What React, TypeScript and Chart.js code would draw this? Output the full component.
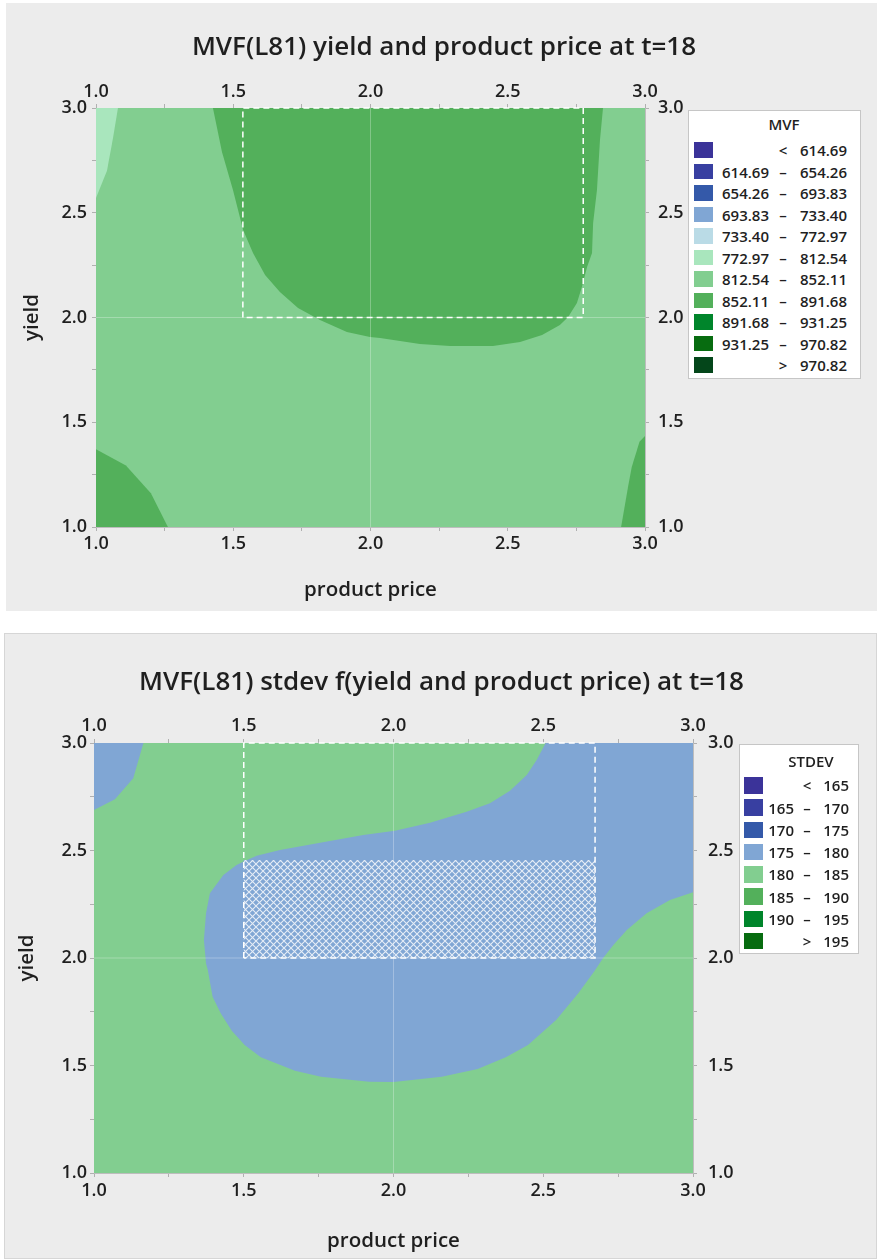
import React, { useEffect, useRef } from 'react';
import { Chart, registerables } from 'chart.js';

Chart.register(...registerables);

const FONT = '"Open Sans", "Noto Sans", "DejaVu Sans", sans-serif';
const INK = '#1f1f1f';

type Pt = [number, number];

// ---------- shared axes ----------
const axisRange = [1.0, 3.0];
const tickValues = [1.0, 1.25, 1.5, 1.75, 2.0, 2.25, 2.5, 2.75, 3.0];
const tickLabels = ['1.0', '', '1.5', '', '2.0', '', '2.5', '', '3.0'];
const xTitle = 'product price';
const yTitle = 'yield';
const refX = 2.0;
const refY = 2.0;

// ---------- chart 1 : MVF ----------
const mvfTitle = 'MVF(L81) yield and product price at t=18';
const mvfLegendTitle = 'MVF';
const mvfBandLow = [null, 614.69, 654.26, 693.83, 733.4, 772.97, 812.54, 852.11, 891.68, 931.25, 970.82];
const mvfBandHigh = [614.69, 654.26, 693.83, 733.4, 772.97, 812.54, 852.11, 891.68, 931.25, 970.82, null];
const mvfBandColors = ['#3b3399', '#383fa1', '#3459a9', '#80a6d4', '#badbe6', '#a9e6bd', '#82ce90', '#53b05b', '#00852b', '#076c10', '#04461a'];

// band 812.54 – 852.11 (whole domain)
const mvfBand812: Pt[] = [[1, 1], [3, 1], [3, 3], [1, 3]];
// band 852.11 – 891.68 (top middle)
const mvfBand852Top: Pt[] = [
  [1.426, 3.0], [1.459, 2.79], [1.499, 2.609], [1.536, 2.418], [1.572, 2.308], [1.616, 2.203],
  [1.67, 2.122], [1.736, 2.045], [1.816, 1.988], [1.914, 1.931], [1.998, 1.907], [2.035, 1.902],
  [2.18, 1.874], [2.29, 1.864], [2.446, 1.864], [2.545, 1.883], [2.625, 1.916], [2.69, 1.964],
  [2.72, 2.002], [2.752, 2.069], [2.77, 2.146], [2.789, 2.241], [2.807, 2.308], [2.811, 2.451],
  [2.825, 2.609], [2.836, 2.847], [2.847, 3.0],
];
// band 852.11 – 891.68 (bottom-left corner)
const mvfBand852Left: Pt[] = [[1.0, 1.0], [1.0, 1.371], [1.109, 1.294], [1.2, 1.161], [1.262, 1.0]];
// band 852.11 – 891.68 (bottom-right corner)
const mvfBand852Right: Pt[] = [[3.0, 1.0], [2.913, 1.0], [2.938, 1.19], [2.952, 1.288], [2.98, 1.407], [3.0, 1.434]];
// band 772.97 – 812.54 (top-left corner)
const mvfBand773: Pt[] = [[1.0, 3.0], [1.08, 3.0], [1.062, 2.857], [1.04, 2.7], [1.0, 2.57]];
// dashed optimum window
const mvfWindow: Pt[] = [[1.535, 2.0], [1.535, 3.0], [2.775, 3.0], [2.775, 2.0], [1.535, 2.0]];

// ---------- chart 2 : STDEV ----------
const sdTitle = 'MVF(L81) stdev f(yield and product price) at t=18';
const sdLegendTitle = 'STDEV';
const sdBandLow = [null, 165, 170, 175, 180, 185, 190, 195];
const sdBandHigh = [165, 170, 175, 180, 185, 190, 195, null];
const sdBandColors = ['#3b3399', '#383fa1', '#3459a9', '#80a6d4', '#82ce90', '#53b05b', '#00852b', '#076c10'];

// band 180 – 185 (whole domain)
const sdBand180: Pt[] = [[1, 1], [3, 1], [3, 3], [1, 3]];
// band 175 – 180 (top-left corner)
const sdBand175Corner: Pt[] = [[1.0, 3.0], [1.165, 3.0], [1.131, 2.836], [1.07, 2.738], [1.0, 2.688]];
// band 175 – 180 (main region)
const sdBand175Main: Pt[] = [
  [2.508, 3.0], [2.478, 2.921], [2.445, 2.851], [2.389, 2.778], [2.322, 2.72], [2.244, 2.68],
  [2.122, 2.629], [2.005, 2.592], [1.955, 2.583], [1.899, 2.572], [1.755, 2.536], [1.621, 2.502],
  [1.543, 2.476], [1.498, 2.448], [1.476, 2.433], [1.432, 2.386], [1.387, 2.301], [1.374, 2.208],
  [1.367, 2.084], [1.374, 1.975], [1.38, 1.944], [1.396, 1.82], [1.423, 1.743], [1.46, 1.662],
  [1.503, 1.595], [1.557, 1.538], [1.671, 1.476], [1.758, 1.448], [1.919, 1.425], [2.0, 1.423],
  [2.161, 1.448], [2.281, 1.484], [2.375, 1.538], [2.449, 1.595], [2.543, 1.712], [2.617, 1.836],
  [2.67, 1.937], [2.7, 2.0], [2.734, 2.06], [2.779, 2.13], [2.845, 2.208], [2.923, 2.27],
  [3.0, 2.306], [3.0, 3.0],
];
// hatched feasible area
const sdHatch: Pt[] = [[1.5, 2.0], [2.673, 2.0], [2.673, 2.456], [1.5, 2.456]];
// dashed window
const sdWindow: Pt[] = [[1.5, 2.0], [1.5, 3.0], [2.673, 3.0], [2.673, 2.0], [1.5, 2.0]];

// ---------- helpers ----------
const toXY = (pts: Pt[]) => pts.map(([x, y]) => ({ x, y }));

function polygon(pts: Pt[], color: any, order: number) {
  return {
    data: toXY(pts),
    showLine: true,
    fill: 'shape',
    backgroundColor: color,
    borderColor: 'rgba(0,0,0,0)',
    borderWidth: 0,
    pointRadius: 0,
    pointHoverRadius: 0,
    tension: 0,
    order,
  };
}

function polyline(pts: Pt[], color: string, width: number, dash: number[], order: number) {
  return {
    data: toXY(pts),
    showLine: true,
    fill: false,
    borderColor: color,
    backgroundColor: color,
    borderWidth: width,
    borderDash: dash,
    pointRadius: 0,
    pointHoverRadius: 0,
    tension: 0,
    order,
    clip: 4,
  };
}

type AxisOpt = { pad: number; size: number; title?: string; titlePad?: number };

function makeScale(position: string, o: AxisOpt) {
  const horizontal = position === 'top' || position === 'bottom';
  return {
    type: 'linear',
    axis: horizontal ? 'x' : 'y',
    position,
    min: axisRange[0],
    max: axisRange[1],
    afterBuildTicks: (s: any) => {
      s.ticks = tickValues.map((v) => ({ value: v }));
    },
    afterFit: (s: any) => {
      if (horizontal) s.height = o.size;
      else s.width = o.size;
    },
    ticks: {
      autoSkip: false,
      maxRotation: 0,
      minRotation: 0,
      padding: o.pad,
      color: INK,
      font: { family: FONT, size: 18, weight: '600' },
      callback: (_v: any, i: number) => tickLabels[i],
    },
    grid: {
      display: true,
      drawOnChartArea: false,
      drawTicks: true,
      tickLength: 4,
      tickColor: '#b0b0b0',
      tickWidth: 1,
    },
    border: { display: true, color: '#bdbdbd', width: 1 },
    title: o.title
      ? {
          display: true,
          text: o.title,
          color: INK,
          font: { family: FONT, size: 20.5, weight: '600' },
          padding: { top: o.titlePad || 0, bottom: o.titlePad || 0 },
        }
      : { display: false },
  };
}

function makeHatch(base: string) {
  const n = 7;
  const c = document.createElement('canvas');
  c.width = n;
  c.height = n;
  const g = c.getContext('2d')!;
  g.fillStyle = base;
  g.fillRect(0, 0, n, n);
  g.strokeStyle = 'rgba(255,255,255,0.8)';
  g.lineWidth = 1.1;
  g.beginPath();
  g.moveTo(0, 0);
  g.lineTo(n, n);
  g.moveTo(n, 0);
  g.lineTo(0, n);
  g.stroke();
  return g.createPattern(c, 'repeat');
}

type ChartCfg = {
  left: number;
  top: number;
  width: number;
  height: number;
  axes: { x: AxisOpt; x2: AxisOpt; y: AxisOpt; y2: AxisOpt };
  build: () => any[];
};

function ContourChart({ cfg }: { cfg: ChartCfg }) {
  const ref = useRef<HTMLCanvasElement>(null);
  useEffect(() => {
    if (!ref.current) return;
    const chart = new Chart(ref.current, {
      type: 'scatter',
      data: { datasets: cfg.build() },
      options: {
        animation: false,
        responsive: false,
        events: [],
        layout: { padding: 0 },
        plugins: {
          legend: { display: false },
          tooltip: { enabled: false },
          title: { display: false },
        },
        scales: {
          x: makeScale('bottom', cfg.axes.x),
          x2: makeScale('top', cfg.axes.x2),
          y: makeScale('left', cfg.axes.y),
          y2: makeScale('right', cfg.axes.y2),
        } as any,
      } as any,
    });
    return () => chart.destroy();
  }, []);
  return (
    <canvas
      ref={ref}
      width={cfg.width}
      height={cfg.height}
      style={{ position: 'absolute', left: cfg.left, top: cfg.top, width: cfg.width, height: cfg.height }}
    />
  );
}

type LegendCfg = {
  box: { left: number; top: number; width: number; height: number };
  title: string;
  titleX: number;
  titleY: number;
  low: (number | null)[];
  high: (number | null)[];
  colors: string[];
  digits: number;
  row0: number;
  step: number;
  swLeft: number;
  swW: number;
  swH: number;
  lowRight: number;
  mid: number;
  highRight: number;
  size: number;
};

const PAGE_W = 877;

function Legend({ c }: { c: LegendCfg }) {
  const fmt = (v: number | null) => (v == null ? '' : v.toFixed(c.digits));
  const lh = 20;
  const txt: React.CSSProperties = {
    position: 'absolute',
    fontFamily: FONT,
    fontSize: c.size,
    fontWeight: 600,
    color: INK,
    lineHeight: lh + 'px',
    whiteSpace: 'nowrap',
  };
  return (
    <>
      <div
        style={{
          position: 'absolute',
          left: c.box.left,
          top: c.box.top,
          width: c.box.width,
          height: c.box.height,
          boxSizing: 'border-box',
          background: '#ffffff',
          border: '1px solid #c6c6c6',
        }}
      />
      <div style={{ ...txt, left: c.titleX - 50, width: 100, textAlign: 'center', top: c.titleY - lh / 2 }}>{c.title}</div>
      {c.colors.map((col, i) => {
        const cy = c.row0 + i * c.step;
        const lo = c.low[i];
        const hi = c.high[i];
        const leftText = lo != null && hi != null ? fmt(lo) : '';
        const sym = lo == null ? '<' : hi == null ? '>' : '–';
        const rightText = hi == null ? fmt(lo) : fmt(hi);
        return (
          <React.Fragment key={i}>
            <div
              style={{
                position: 'absolute',
                left: c.swLeft,
                top: cy - c.swH / 2,
                width: c.swW,
                height: c.swH,
                background: col,
              }}
            />
            {leftText && (
              <div style={{ ...txt, right: PAGE_W - c.lowRight, top: cy - lh / 2 }}>{leftText}</div>
            )}
            <div style={{ ...txt, left: c.mid - 15, width: 30, textAlign: 'center', top: cy - lh / 2 }}>{sym}</div>
            <div style={{ ...txt, right: PAGE_W - c.highRight, top: cy - lh / 2 }}>{rightText}</div>
          </React.Fragment>
        );
      })}
    </>
  );
}

function Title({ text, cx, cy }: { text: string; cx: number; cy: number }) {
  return (
    <div
      style={{
        position: 'absolute',
        left: cx - 420,
        width: 840,
        top: cy - 18,
        height: 36,
        lineHeight: '36px',
        textAlign: 'center',
        fontFamily: FONT,
        fontSize: 26,
        fontWeight: 600,
        color: INK,
        whiteSpace: 'nowrap',
      }}
    >
      {text}
    </div>
  );
}

const chart1: ChartCfg = {
  left: 6,
  top: 3,
  width: 871,
  height: 608,
  axes: {
    x: { pad: 2, size: 84, title: xTitle, titlePad: 9 },
    x2: { pad: 1, size: 105 },
    y: { pad: 5, size: 90, title: yTitle, titlePad: 14 },
    y2: { pad: 9, size: 232 },
  },
  build: () => [
    polyline([[refX, 1], [refX, 3]], 'rgba(255,255,255,0.28)', 1, [], 2),
    polyline([[1, refY], [3, refY]], 'rgba(255,255,255,0.28)', 1, [], 2),
    polyline(mvfWindow, '#ffffff', 1.5, [6, 4], 1),
    polygon(mvfBand812, mvfBandColors[6], 100),
    polygon(mvfBand852Top, mvfBandColors[7], 50),
    polygon(mvfBand852Left, mvfBandColors[7], 50),
    polygon(mvfBand852Right, mvfBandColors[7], 50),
    polygon(mvfBand773, mvfBandColors[5], 50),
  ],
};

const chart2: ChartCfg = {
  left: 4,
  top: 633,
  width: 873,
  height: 626,
  axes: {
    x: { pad: 3, size: 86, title: xTitle, titlePad: 6 },
    x2: { pad: 2, size: 110 },
    y: { pad: 3, size: 90, title: yTitle, titlePad: 11 },
    y2: { pad: 11, size: 184 },
  },
  build: () => [
    polyline([[refX, 1], [refX, 3]], 'rgba(255,255,255,0.28)', 1, [], 2),
    polyline([[1, refY], [3, refY]], 'rgba(255,255,255,0.28)', 1, [], 2),
    polyline(sdWindow, '#ffffff', 1.5, [6, 4], 1),
    polygon(sdBand180, sdBandColors[4], 100),
    polygon(sdBand175Corner, sdBandColors[3], 50),
    polygon(sdBand175Main, sdBandColors[3], 50),
    polygon(sdHatch, makeHatch(sdBandColors[3]), 40),
  ],
};

const legend1: LegendCfg = {
  box: { left: 688, top: 110, width: 173, height: 269 },
  title: mvfLegendTitle,
  titleX: 784,
  titleY: 124,
  low: mvfBandLow,
  high: mvfBandHigh,
  colors: mvfBandColors,
  digits: 2,
  row0: 150,
  step: 21.5,
  swLeft: 694,
  swW: 19,
  swH: 15.5,
  lowRight: 769,
  mid: 783,
  highRight: 847,
  size: 15,
};

const legend2: LegendCfg = {
  box: { left: 739, top: 744, width: 120, height: 210 },
  title: sdLegendTitle,
  titleX: 811,
  titleY: 761,
  low: sdBandLow,
  high: sdBandHigh,
  colors: sdBandColors,
  digits: 0,
  row0: 785.3,
  step: 22.25,
  swLeft: 744,
  swW: 19,
  swH: 16.5,
  lowRight: 794,
  mid: 807,
  highRight: 849,
  size: 15,
};

export default function App() {
  return (
    <div style={{ position: 'absolute', left: 0, top: 0, width: PAGE_W, height: 1259, background: '#ffffff', overflow: 'hidden' }}>
      <div style={{ position: 'absolute', left: 6, top: 3, width: 871, height: 608, background: '#ececec' }} />
      <div
        style={{
          position: 'absolute',
          left: 4,
          top: 633,
          width: 873,
          height: 626,
          boxSizing: 'border-box',
          background: '#ececec',
          border: '1px solid #d6d6d6',
        }}
      />
      <ContourChart cfg={chart1} />
      <ContourChart cfg={chart2} />
      <Title text={mvfTitle} cx={444} cy={45} />
      <Title text={sdTitle} cx={441.5} cy={680} />
      <Legend c={legend1} />
      <Legend c={legend2} />
    </div>
  );
}
